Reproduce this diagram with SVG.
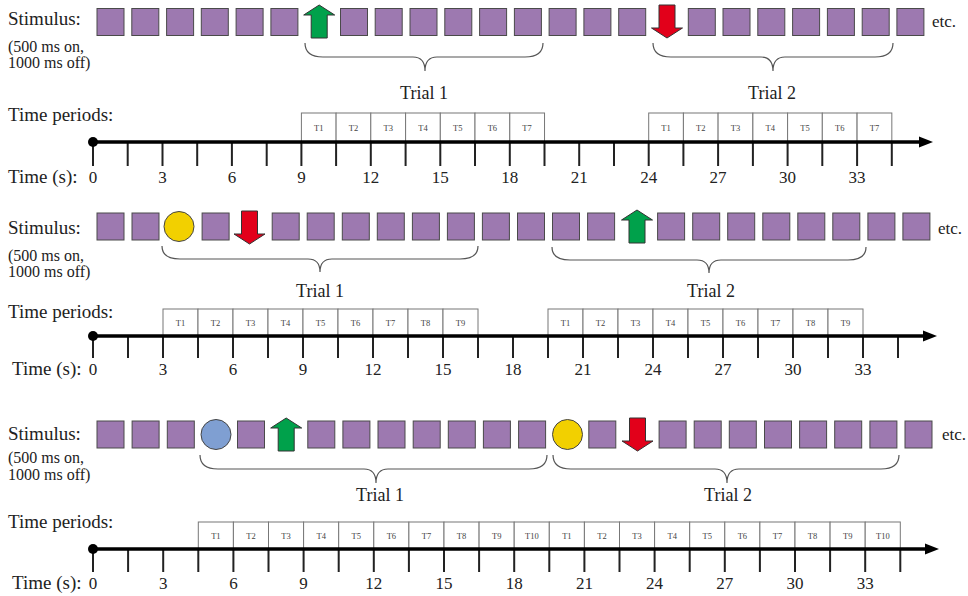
<svg xmlns="http://www.w3.org/2000/svg" xmlns:xlink="http://www.w3.org/1999/xlink" width="968" height="596" viewBox="0 0 968 596">
<style>
text{font-family:"Liberation Serif","Times New Roman",serif;fill:#222}
.lbl{font-size:19px}
.sub{font-size:16px}
.num{font-size:17px;text-anchor:middle}
.trial{font-size:18px;text-anchor:middle}
.etc{font-size:17px}
.tp{font-size:8.5px;text-anchor:middle;fill:#444}
.sq{fill:#9d79b0;stroke:#4a4a4a;stroke-width:1}
.up{fill:#00a14b;stroke:#333;stroke-width:1}
.dn{fill:#e2001a;stroke:#333;stroke-width:1}
.yel{fill:#f2d000;stroke:#444;stroke-width:1}
.blu{fill:#7f9fd2;stroke:#444;stroke-width:1}
.brace{fill:none;stroke:#555;stroke-width:1.2}
.box{fill:#fff;stroke:#777;stroke-width:1}
.axis{stroke:#000;stroke-width:3.5;fill:none}
.tick{stroke:#222;stroke-width:2;fill:none}
</style>
<defs>
<rect id="sq" class="sq" x="0" y="0" width="27" height="27"/>
<polygon id="up" class="up" points="15.5,0 31,10 23.5,10 23.5,33 7.5,33 7.5,10 0,10"/>
<polygon id="dn" class="dn" points="7.5,0 23.5,0 23.5,23 31,23 15.5,33 0,23 7.5,23"/>
</defs>

<!-- ================= PANEL 1 ================= -->
<g id="panel1-labels">
<text class="lbl" x="8" y="25">Stimulus:</text>
<text class="sub" x="8" y="52">(500 ms on,</text>
<text class="sub" x="8" y="68">1000 ms off)</text>
<text class="lbl" x="8" y="121">Time periods:</text>
<text class="lbl" x="8" y="183">Time (s):</text>
<text class="etc" x="932" y="27">etc.</text>
</g>
<g id="panel1-stimulus">
<use href="#sq" x="97" y="8.5"/><use href="#sq" x="131.8" y="8.5"/><use href="#sq" x="166.6" y="8.5"/><use href="#sq" x="201.3" y="8.5"/><use href="#sq" x="236.1" y="8.5"/><use href="#sq" x="270.9" y="8.5"/>
<use href="#up" x="303.7" y="5"/>
<use href="#sq" x="340.5" y="8.5"/><use href="#sq" x="375.2" y="8.5"/><use href="#sq" x="410" y="8.5"/><use href="#sq" x="444.8" y="8.5"/><use href="#sq" x="479.6" y="8.5"/><use href="#sq" x="514.4" y="8.5"/><use href="#sq" x="549.1" y="8.5"/><use href="#sq" x="583.9" y="8.5"/><use href="#sq" x="618.7" y="8.5"/>
<use href="#dn" x="651.5" y="5"/>
<use href="#sq" x="688.3" y="8.5"/><use href="#sq" x="723" y="8.5"/><use href="#sq" x="757.8" y="8.5"/><use href="#sq" x="792.6" y="8.5"/><use href="#sq" x="827.4" y="8.5"/><use href="#sq" x="862.2" y="8.5"/><use href="#sq" x="896.9" y="8.5"/>
</g>
<g id="panel1-trial1">
<path class="brace" d="M305,43 Q305,57 323,57 L413,57 Q425,57 425,71 Q425,57 437,57 L525,57 Q543,57 543,43"/>
<text class="trial" x="424" y="99">Trial 1</text>
</g>
<g id="panel1-trial2">
<path class="brace" d="M653,43 Q653,57 671,57 L761,57 Q773,57 773,71 Q773,57 785,57 L875,57 Q893,57 893,43"/>
<text class="trial" x="772" y="99">Trial 2</text>
</g>
<g id="panel1-periods">
<rect class="box" x="301.4" y="113" width="34.73" height="29"/><rect class="box" x="336.1" y="113" width="34.73" height="29"/><rect class="box" x="370.8" y="113" width="34.73" height="29"/><rect class="box" x="405.6" y="113" width="34.73" height="29"/><rect class="box" x="440.3" y="113" width="34.73" height="29"/><rect class="box" x="475" y="113" width="34.73" height="29"/><rect class="box" x="509.8" y="113" width="34.73" height="29"/>
<text class="tp" x="318.8" y="130.5">T1</text><text class="tp" x="353.5" y="130.5">T2</text><text class="tp" x="388.2" y="130.5">T3</text><text class="tp" x="423" y="130.5">T4</text><text class="tp" x="457.7" y="130.5">T5</text><text class="tp" x="492.4" y="130.5">T6</text><text class="tp" x="527.1" y="130.5">T7</text>
<rect class="box" x="648.7" y="113" width="34.73" height="29"/><rect class="box" x="683.4" y="113" width="34.73" height="29"/><rect class="box" x="718.1" y="113" width="34.73" height="29"/><rect class="box" x="752.9" y="113" width="34.73" height="29"/><rect class="box" x="787.6" y="113" width="34.73" height="29"/><rect class="box" x="822.3" y="113" width="34.73" height="29"/><rect class="box" x="857.1" y="113" width="34.73" height="29"/>
<text class="tp" x="666.1" y="130.5">T1</text><text class="tp" x="700.8" y="130.5">T2</text><text class="tp" x="735.5" y="130.5">T3</text><text class="tp" x="770.3" y="130.5">T4</text><text class="tp" x="805" y="130.5">T5</text><text class="tp" x="839.7" y="130.5">T6</text><text class="tp" x="874.5" y="130.5">T7</text>
</g>
<g id="panel1-axis">
<path class="tick" d="M93,142V166M127.7,142V166M162.5,142V166M197.2,142V166M231.9,142V166M266.7,142V166M301.4,142V166M336.1,142V166M370.8,142V166M405.6,142V166M440.3,142V166M475,142V166M509.8,142V166M544.5,142V166M579.2,142V166M614,142V166M648.7,142V166M683.4,142V166M718.1,142V166M752.9,142V166M787.6,142V166M822.3,142V166M857.1,142V166M891.8,142V166"/>
<line class="axis" x1="93" y1="142" x2="922" y2="142"/>
<polygon points="919,136.5 933,142 919,147.5" fill="#000"/>
<circle cx="93" cy="142" r="5" fill="#000"/>
<text class="num" x="93" y="183">0</text><text class="num" x="162.5" y="183">3</text><text class="num" x="231.9" y="183">6</text><text class="num" x="301.4" y="183">9</text><text class="num" x="370.8" y="183">12</text><text class="num" x="440.3" y="183">15</text><text class="num" x="509.8" y="183">18</text><text class="num" x="579.2" y="183">21</text><text class="num" x="648.7" y="183">24</text><text class="num" x="718.1" y="183">27</text><text class="num" x="787.6" y="183">30</text><text class="num" x="857.1" y="183">33</text>
</g>

<!-- ================= PANEL 2 ================= -->
<g id="panel2-labels">
<text class="lbl" x="8" y="234">Stimulus:</text>
<text class="sub" x="8" y="261">(500 ms on,</text>
<text class="sub" x="8" y="277">1000 ms off)</text>
<text class="lbl" x="8" y="318">Time periods:</text>
<text class="lbl" x="12" y="375">Time (s):</text>
<text class="etc" x="938" y="234">etc.</text>
</g>
<g id="panel2-stimulus">
<use href="#sq" x="97" y="213"/><use href="#sq" x="132" y="213"/>
<circle class="yel" cx="179" cy="226.5" r="15"/>
<use href="#sq" x="202.1" y="213"/>
<use href="#dn" x="234" y="211"/>
<use href="#sq" x="272.2" y="213"/><use href="#sq" x="307.2" y="213"/><use href="#sq" x="342.3" y="213"/><use href="#sq" x="377.3" y="213"/><use href="#sq" x="412.4" y="213"/><use href="#sq" x="447.4" y="213"/><use href="#sq" x="482.4" y="213"/><use href="#sq" x="517.5" y="213"/><use href="#sq" x="552.5" y="213"/><use href="#sq" x="587.6" y="213"/>
<use href="#up" x="621.5" y="210"/>
<use href="#sq" x="657.6" y="213"/><use href="#sq" x="692.7" y="213"/><use href="#sq" x="727.7" y="213"/><use href="#sq" x="762.8" y="213"/><use href="#sq" x="797.8" y="213"/><use href="#sq" x="832.8" y="213"/><use href="#sq" x="867.9" y="213"/><use href="#sq" x="902.9" y="213"/>
</g>
<g id="panel2-trial1">
<path class="brace" d="M162,246 Q162,259 180,259 L308,259 Q320,259 320,272 Q320,259 332,259 L460,259 Q478,259 478,246"/>
<text class="trial" x="320" y="297">Trial 1</text>
</g>
<g id="panel2-trial2">
<path class="brace" d="M552,247 Q552,260 570,260 L697,260 Q709,260 709,273 Q709,260 721,260 L848,260 Q866,260 866,247"/>
<text class="trial" x="711" y="297">Trial 2</text>
</g>
<g id="panel2-periods">
<rect class="box" x="163" y="309" width="35" height="27"/><rect class="box" x="198" y="309" width="35" height="27"/><rect class="box" x="233" y="309" width="35" height="27"/><rect class="box" x="268" y="309" width="35" height="27"/><rect class="box" x="303" y="309" width="35" height="27"/><rect class="box" x="338" y="309" width="35" height="27"/><rect class="box" x="373" y="309" width="35" height="27"/><rect class="box" x="408" y="309" width="35" height="27"/><rect class="box" x="443" y="309" width="35" height="27"/>
<text class="tp" x="180.5" y="325.5">T1</text><text class="tp" x="215.5" y="325.5">T2</text><text class="tp" x="250.5" y="325.5">T3</text><text class="tp" x="285.5" y="325.5">T4</text><text class="tp" x="320.5" y="325.5">T5</text><text class="tp" x="355.5" y="325.5">T6</text><text class="tp" x="390.5" y="325.5">T7</text><text class="tp" x="425.5" y="325.5">T8</text><text class="tp" x="460.5" y="325.5">T9</text>
<rect class="box" x="548" y="309" width="35" height="27"/><rect class="box" x="583" y="309" width="35" height="27"/><rect class="box" x="618" y="309" width="35" height="27"/><rect class="box" x="653" y="309" width="35" height="27"/><rect class="box" x="688" y="309" width="35" height="27"/><rect class="box" x="723" y="309" width="35" height="27"/><rect class="box" x="758" y="309" width="35" height="27"/><rect class="box" x="793" y="309" width="35" height="27"/><rect class="box" x="828" y="309" width="35" height="27"/>
<text class="tp" x="565.5" y="325.5">T1</text><text class="tp" x="600.5" y="325.5">T2</text><text class="tp" x="635.5" y="325.5">T3</text><text class="tp" x="670.5" y="325.5">T4</text><text class="tp" x="705.5" y="325.5">T5</text><text class="tp" x="740.5" y="325.5">T6</text><text class="tp" x="775.5" y="325.5">T7</text><text class="tp" x="810.5" y="325.5">T8</text><text class="tp" x="845.5" y="325.5">T9</text>
</g>
<g id="panel2-axis">
<path class="tick" d="M93,336V358M128,336V358M163,336V358M198,336V358M233,336V358M268,336V358M303,336V358M338,336V358M373,336V358M408,336V358M443,336V358M478,336V358M513,336V358M548,336V358M583,336V358M618,336V358M653,336V358M688,336V358M723,336V358M758,336V358M793,336V358M828,336V358M863,336V358M898,336V358"/>
<line class="axis" x1="93" y1="336" x2="926" y2="336"/>
<polygon points="923,330.5 937,336 923,341.5" fill="#000"/>
<circle cx="93" cy="336" r="5" fill="#000"/>
<text class="num" x="93" y="375">0</text><text class="num" x="163" y="375">3</text><text class="num" x="233" y="375">6</text><text class="num" x="303" y="375">9</text><text class="num" x="373" y="375">12</text><text class="num" x="443" y="375">15</text><text class="num" x="513" y="375">18</text><text class="num" x="583" y="375">21</text><text class="num" x="653" y="375">24</text><text class="num" x="723" y="375">27</text><text class="num" x="793" y="375">30</text><text class="num" x="863" y="375">33</text>
</g>

<!-- ================= PANEL 3 ================= -->
<g id="panel3-labels">
<text class="lbl" x="8" y="440">Stimulus:</text>
<text class="sub" x="8" y="463">(500 ms on,</text>
<text class="sub" x="8" y="480">1000 ms off)</text>
<text class="lbl" x="8" y="528">Time periods:</text>
<text class="lbl" x="12" y="589">Time (s):</text>
<text class="etc" x="942" y="440">etc.</text>
</g>
<g id="panel3-stimulus">
<use href="#sq" x="97" y="421"/><use href="#sq" x="132.1" y="421"/><use href="#sq" x="167.3" y="421"/>
<circle class="blu" cx="216" cy="434.5" r="15"/>
<use href="#sq" x="237.5" y="421"/>
<use href="#up" x="270.7" y="418"/>
<use href="#sq" x="307.8" y="421"/><use href="#sq" x="342.9" y="421"/><use href="#sq" x="378" y="421"/><use href="#sq" x="413.2" y="421"/><use href="#sq" x="448.3" y="421"/><use href="#sq" x="483.4" y="421"/><use href="#sq" x="518.6" y="421"/>
<circle class="yel" cx="567.5" cy="434.5" r="15"/>
<use href="#sq" x="588.8" y="421"/>
<use href="#dn" x="622" y="418"/>
<use href="#sq" x="659.1" y="421"/><use href="#sq" x="694.2" y="421"/><use href="#sq" x="729.3" y="421"/><use href="#sq" x="764.5" y="421"/><use href="#sq" x="799.6" y="421"/><use href="#sq" x="834.7" y="421"/><use href="#sq" x="869.9" y="421"/><use href="#sq" x="905" y="421"/>
</g>
<g id="panel3-trial1">
<path class="brace" d="M200,455 Q200,469 218,469 L364,469 Q376,469 376,483 Q376,469 388,469 L529,469 Q547,469 547,455"/>
<text class="trial" x="380" y="501">Trial 1</text>
</g>
<g id="panel3-trial2">
<path class="brace" d="M553,455 Q553,469 571,469 L715,469 Q727,469 727,483 Q727,469 739,469 L881,469 Q899,469 899,455"/>
<text class="trial" x="728" y="501">Trial 2</text>
</g>
<g id="panel3-periods">
<rect class="box" x="198.3" y="522" width="35.1" height="27"/><rect class="box" x="233.4" y="522" width="35.1" height="27"/><rect class="box" x="268.5" y="522" width="35.1" height="27"/><rect class="box" x="303.6" y="522" width="35.1" height="27"/><rect class="box" x="338.7" y="522" width="35.1" height="27"/><rect class="box" x="373.8" y="522" width="35.1" height="27"/><rect class="box" x="408.9" y="522" width="35.1" height="27"/><rect class="box" x="444" y="522" width="35.1" height="27"/><rect class="box" x="479.1" y="522" width="35.1" height="27"/><rect class="box" x="514.2" y="522" width="35.1" height="27"/>
<text class="tp" x="215.9" y="538.5">T1</text><text class="tp" x="251" y="538.5">T2</text><text class="tp" x="286.1" y="538.5">T3</text><text class="tp" x="321.2" y="538.5">T4</text><text class="tp" x="356.3" y="538.5">T5</text><text class="tp" x="391.4" y="538.5">T6</text><text class="tp" x="426.5" y="538.5">T7</text><text class="tp" x="461.6" y="538.5">T8</text><text class="tp" x="496.7" y="538.5">T9</text><text class="tp" x="531.8" y="538.5">T10</text>
<rect class="box" x="549.3" y="522" width="35.1" height="27"/><rect class="box" x="584.4" y="522" width="35.1" height="27"/><rect class="box" x="619.5" y="522" width="35.1" height="27"/><rect class="box" x="654.6" y="522" width="35.1" height="27"/><rect class="box" x="689.7" y="522" width="35.1" height="27"/><rect class="box" x="724.8" y="522" width="35.1" height="27"/><rect class="box" x="759.9" y="522" width="35.1" height="27"/><rect class="box" x="795" y="522" width="35.1" height="27"/><rect class="box" x="830.1" y="522" width="35.1" height="27"/><rect class="box" x="865.2" y="522" width="35.1" height="27"/>
<text class="tp" x="566.9" y="538.5">T1</text><text class="tp" x="602" y="538.5">T2</text><text class="tp" x="637.1" y="538.5">T3</text><text class="tp" x="672.2" y="538.5">T4</text><text class="tp" x="707.3" y="538.5">T5</text><text class="tp" x="742.4" y="538.5">T6</text><text class="tp" x="777.5" y="538.5">T7</text><text class="tp" x="812.6" y="538.5">T8</text><text class="tp" x="847.7" y="538.5">T9</text><text class="tp" x="882.8" y="538.5">T10</text>
</g>
<g id="panel3-axis">
<path class="tick" d="M93,549V572M128.1,549V572M163.2,549V572M198.3,549V572M233.4,549V572M268.5,549V572M303.6,549V572M338.7,549V572M373.8,549V572M408.9,549V572M444,549V572M479.1,549V572M514.2,549V572M549.3,549V572M584.4,549V572M619.5,549V572M654.6,549V572M689.7,549V572M724.8,549V572M759.9,549V572M795,549V572M830.1,549V572M865.2,549V572M900.3,549V572"/>
<line class="axis" x1="93" y1="549" x2="928" y2="549"/>
<polygon points="925,543.5 939,549 925,554.5" fill="#000"/>
<circle cx="93" cy="549" r="5" fill="#000"/>
<text class="num" x="93" y="589">0</text><text class="num" x="163.2" y="589">3</text><text class="num" x="233.4" y="589">6</text><text class="num" x="303.6" y="589">9</text><text class="num" x="373.8" y="589">12</text><text class="num" x="444" y="589">15</text><text class="num" x="514.2" y="589">18</text><text class="num" x="584.4" y="589">21</text><text class="num" x="654.6" y="589">24</text><text class="num" x="724.8" y="589">27</text><text class="num" x="795" y="589">30</text><text class="num" x="865.2" y="589">33</text>
</g>
</svg>
